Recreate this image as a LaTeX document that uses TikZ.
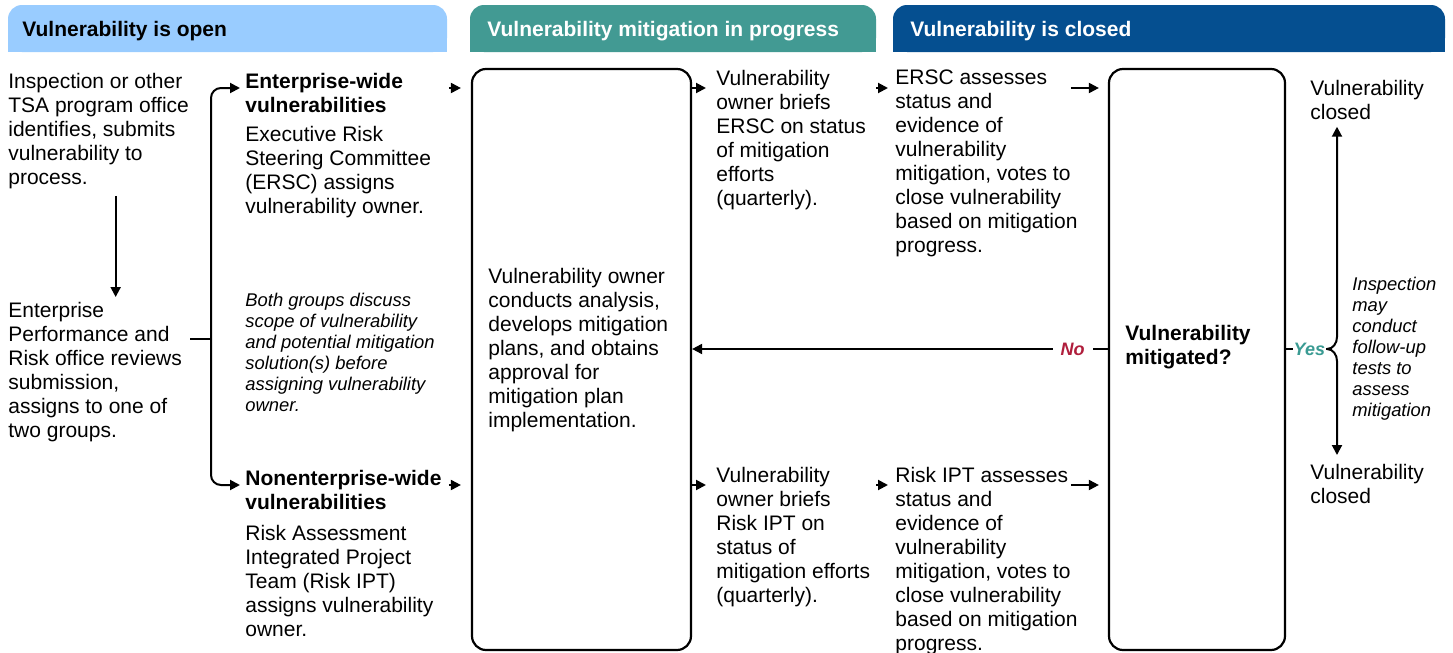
\documentclass[tikz,border=0pt]{standalone}
\usepackage{fontspec}
\setmainfont{Liberation Sans}
\usetikzlibrary{arrows.meta}
\usetikzlibrary{positioning}

\definecolor{openblue}{HTML}{99CCFF}
\definecolor{progteal}{HTML}{429A93}
\definecolor{closedblue}{HTML}{054F90}
\definecolor{nored}{HTML}{B01E3C}
\definecolor{yesteal}{HTML}{3A9B93}

\begin{document}
\begin{tikzpicture}[x=0.5pt, y=-0.5pt,
  txt/.style={anchor=north west, align=left, inner sep=0pt, font=\fontsize{10.5}{12}\selectfont},
  ttl/.style={txt, font=\fontsize{10.5}{12}\selectfont\bfseries},
  note/.style={txt, font=\fontsize{9.2}{10.5}\selectfont\itshape},
  hdr/.style={anchor=base west, inner sep=0pt, font=\fontsize{10.5}{12}\selectfont\bfseries},
  box/.style={draw, line width=1.1pt, rounded corners=7pt, minimum width=#1, minimum height=290.5pt},
  arr/.style={-{Triangle[length=5pt,width=5pt]}, line width=1pt},
  yesno/.style={font=\fontsize{9}{10}\selectfont\bfseries\itshape, fill=white}]
  \useasboundingbox (0,0) rectangle (1453,653);

  % phase bars
  \fill[openblue, rounded corners=7pt] (8,5) rectangle (447,52);
  \fill[openblue] (8,30) rectangle (447,52);
  \node[hdr] (hopen) at (22,36) {Vulnerability is open};
  \fill[progteal, rounded corners=7pt] (470,5) rectangle (876,52);
  \fill[progteal] (470,30) rectangle (876,52);
  \node[hdr, text=white] (hprog) at (487,36) {Vulnerability mitigation in progress};
  \fill[closedblue, rounded corners=7pt] (893,5) rectangle (1445,52);
  \fill[closedblue] (893,30) rectangle (1445,52);
  \node[hdr, text=white] (hclosed) at (910,36) {Vulnerability is closed};

  % rows the arrows run along
  \coordinate (toprow) at (0,88);
  \coordinate (botrow) at (0,485);
  \coordinate (midrow) at (0,349);

  % submission
  \node[txt] (insp) at (8,72.5) {Inspection or other\\TSA program office\\identifies, submits\\vulnerability to\\process.};
  \node[txt] (epr) at (8,301.5) {Enterprise\\Performance and\\Risk office reviews\\submission,\\assigns to one of\\two groups.};
  \draw[arr, shorten <=3.5pt, shorten >=2.25pt] ([xshift=8.5pt]insp.south) -- ([xshift=8.5pt]insp.south |- epr.north);

  % the two groups
  \node[ttl] (ewtitle) at (245,72.5) {Enterprise-wide\\vulnerabilities};
  \node[txt] (ewbody) at (245,125.5) {Executive Risk\\Steering Committee\\(ERSC) assigns\\vulnerability owner.};
  \node[note] (both) at (245,292.5) {Both groups discuss\\scope of vulnerability\\and potential mitigation\\solution(s) before\\assigning vulnerability\\owner.};
  \node[ttl] (nettitle) at (245,469.5) {Nonenterprise-wide\\vulnerabilities};
  \node[txt] (netbody) at (245,524.5) {Risk Assessment\\Integrated Project\\Team (Risk IPT)\\assigns vulnerability\\owner.};

  \coordinate (split) at (211,339);
  \draw[line width=1pt] ([xshift=4pt]epr.east |- split) -- (split);
  \draw[arr, rounded corners=5pt] (split) |- ([xshift=-2.5pt]ewtitle.west |- toprow);
  \draw[arr, rounded corners=5pt] (split) |- ([xshift=-2.5pt]nettitle.west |- botrow);

  % mitigation work
  \node[box=109.5pt] (big) at (581.5,359.5) {};
  \node[txt] (plan) at (488,267.5) {Vulnerability owner\\conducts analysis,\\develops mitigation\\plans, and obtains\\approval for\\mitigation plan\\implementation.};
  \draw[arr, shorten >=5pt] ([xshift=-11pt]big.west |- toprow) -- (big.west |- toprow);
  \draw[arr, shorten >=5pt] ([xshift=-11pt]big.west |- botrow) -- (big.west |- botrow);

  \node[txt] (brief) at (716,69.5) {Vulnerability\\owner briefs\\ERSC on status\\of mitigation\\efforts\\(quarterly).};
  \node[txt] (briefb) at (716,466.5) {Vulnerability\\owner briefs\\Risk IPT on\\status of\\mitigation efforts\\(quarterly).};
  \draw[arr, shorten >=5pt] (big.east |- toprow) -- (brief.west |- toprow);
  \draw[arr, shorten >=5pt] (big.east |- botrow) -- (briefb.west |- botrow);

  % review and vote
  \node[txt] (ersc) at (895,69.5) {ERSC assesses\\status and\\evidence of\\vulnerability\\mitigation, votes to\\close vulnerability\\based on mitigation\\progress.};
  \node[txt] (ipt) at (895,466.5) {Risk IPT assesses\\status and\\evidence of\\vulnerability\\mitigation, votes to\\close vulnerability\\based on mitigation\\progress.};
  \draw[arr, shorten >=3.5pt] ([xshift=-9.5pt]ersc.west |- toprow) -- (ersc.west |- toprow);
  \draw[arr, shorten >=3.5pt] ([xshift=-9.5pt]ipt.west |- botrow) -- (ipt.west |- botrow);

  % decision
  \node[box=88pt] (dec) at (1197,359.5) {};
  \node[ttl] (dectext) at (1125,324.5) {Vulnerability\\mitigated?};
  \draw[arr, shorten >=4.5pt] ([xshift=-18.5pt]dec.west |- toprow) -- (dec.west |- toprow);
  \draw[arr, shorten >=4.5pt] ([xshift=-18.5pt]dec.west |- botrow) -- (dec.west |- botrow);

  \draw[arr] (dec.west |- midrow) -- (big.east |- midrow)
    node[pos=0.085, yesno, text=nored, inner xsep=4pt] {No};

  % closing
  \node[txt] (closedtop) at (1310,79.5) {Vulnerability\\closed};
  \node[txt] (closedbot) at (1310,463.5) {Vulnerability\\closed};
  \node[note] (followup) at (1352,276.5) {Inspection\\may\\conduct\\follow-up\\tests to\\assess\\mitigation};

  \coordinate (bracetip) at (1327,349);
  \coordinate (spine) at (1337,0);
  \draw[line width=1pt] (dec.east |- midrow) -- (bracetip)
    node[pos=0.57, yesno, text=yesteal, inner sep=0.5pt] {Yes};
  \draw[arr, shorten >=3.5pt] (bracetip) to[out=0, in=-90] ([shift={(10,-12)}]bracetip) -- (spine |- closedtop.south);
  \draw[arr, shorten >=4.25pt] (bracetip) to[out=0, in=90] ([shift={(10,12)}]bracetip) -- (spine |- closedbot.north);
\end{tikzpicture}
\end{document}
